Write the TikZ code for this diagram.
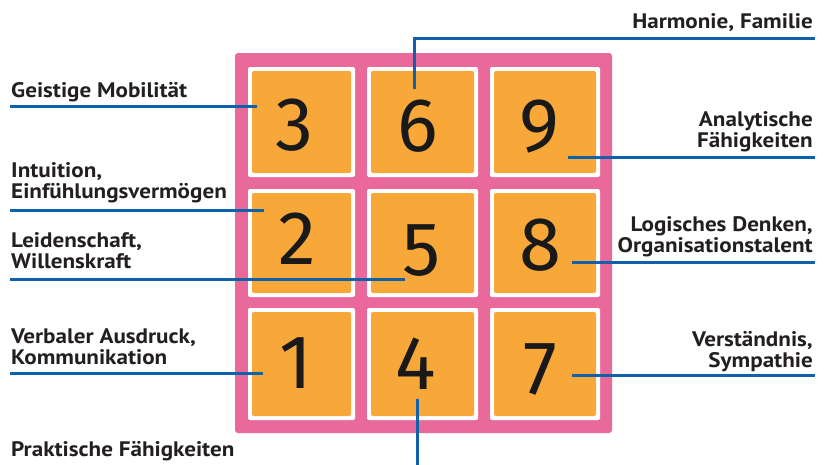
\documentclass[tikz,border=0pt]{standalone}
\usepackage{fontspec}
\setmainfont{PT Sans}[FakeStretch=1.1]
\newfontfamily\digitfont{Fira Sans}
\definecolor{framepink}{RGB}{233,105,155}
\definecolor{sqorange}{RGB}{247,168,56}
\definecolor{lineblue}{RGB}{16,96,170}
\definecolor{txt}{RGB}{35,31,32}
\begin{document}
\begin{tikzpicture}[x=1pt,y=-1pt,
  lab/.style={inner sep=0pt,font=\fontsize{21}{20.5}\selectfont\bfseries,text=txt},
  labl/.style={lab,anchor=base west,align=left},
  labr/.style={lab,anchor=base east,align=right},
  conn/.style={draw=lineblue,line width=3pt},
  cellw/.style={fill=white,rounded corners=2pt},
  sq/.style={fill=sqorange,rounded corners=2pt},
  dig/.style={inner sep=0pt,font=\digitfont\fontsize{76}{76}\selectfont,text=black!90}]
\useasboundingbox (0,0) rectangle (827,464);
% frame
\fill[framepink,rounded corners=3pt] (235,53) rectangle (612,433);
% white cells and orange squares
\foreach \cx/\xa/\xb in {1/248/355,2/367/478,3/490/600}{
  \foreach \ry/\ya/\yb in {1/67/177,2/189/297,3/308/420}{
    \fill[cellw] (\xa,\ya) rectangle (\xb,\yb);
    \fill[sq] (\xa+4,\ya+4) rectangle (\xb-4,\yb-4);
  }
}
% named square nodes
\node[inner sep=0pt,minimum width=99pt,minimum height=102pt] (sq3) at (301.5,122) {};
\node[inner sep=0pt,minimum width=103pt,minimum height=102pt] (sq6) at (422.5,122) {};
\node[inner sep=0pt,minimum width=102pt,minimum height=102pt] (sq9) at (545,122) {};
\node[inner sep=0pt,minimum width=99pt,minimum height=100pt] (sq2) at (301.5,243) {};
\node[inner sep=0pt,minimum width=103pt,minimum height=100pt] (sq5) at (422.5,243) {};
\node[inner sep=0pt,minimum width=102pt,minimum height=100pt] (sq8) at (545,243) {};
\node[inner sep=0pt,minimum width=99pt,minimum height=104pt] (sq1) at (301.5,364) {};
\node[inner sep=0pt,minimum width=103pt,minimum height=104pt] (sq4) at (422.5,364) {};
\node[inner sep=0pt,minimum width=102pt,minimum height=104pt] (sq7) at (545,364) {};
% digits
\node[dig] (d3) at (294,125) {3};
\node[dig] (d6) at (418,126) {6};
\node[dig] (d9) at (539,127) {9};
\node[dig] (d2) at (297,239) {2};
\node[dig] (d5) at (422,251) {5};
\node[dig] (d8) at (540,245) {8};
\node[dig] (d1) at (296,363) {1};
\node[dig] (d4) at (416,364) {4};
\node[dig] (d7) at (540,369) {7};
% labels left (anchor = baseline of last line)
\node[labl] (l3) at (11,97) {Geistige Mobilität};
\node[labl] (l2) at (11,198) {Intuition,\\Einfühlungsvermögen};
\node[labl] (l5) at (11,268) {Leidenschaft,\\Willenskraft};
\node[labl] (l1) at (11,364) {Verbaler Ausdruck,\\Kommunikation};
\node[labl] (l4) at (11,456) {Praktische Fähigkeiten};
% labels right
\node[labr] (l6) at (813,28) {Harmonie, Familie};
\node[labr] (l9) at (813,147) {Analytische\\Fähigkeiten};
\node[labr] (l8) at (813,252) {Logisches Denken,\\Organisationstalent};
\node[labr] (l7) at (813,367) {Verständnis,\\Sympathie};
% connector coordinates
\coordinate (a3) at (10,106);  \coordinate (p3) at (257,106);
\coordinate (a2) at (10,210);  \coordinate (p2) at (264,210);
\coordinate (a5) at (10,279);  \coordinate (p5) at (405,279);
\coordinate (a1) at (10,373);  \coordinate (p1) at (263,373);
\coordinate (a6) at (815,38);  \coordinate (b6) at (414,38); \coordinate (p6) at (414,89);
\coordinate (a9) at (815,157); \coordinate (p9) at (568,157);
\coordinate (a8) at (815,262); \coordinate (p8) at (572,262);
\coordinate (a7) at (815,375); \coordinate (p7) at (572,375);
\coordinate (p4) at (417,399); \coordinate (a4) at (417,466);
% connectors
\draw[conn] (a3) -- (p3);
\draw[conn] (a2) -- (p2);
\draw[conn] (a5) -- (p5);
\draw[conn] (a1) -- (p1);
\draw[conn] (a6) -- (b6) -- (p6);
\draw[conn] (a9) -- (p9);
\draw[conn] (a8) -- (p8);
\draw[conn] (a7) -- (p7);
\draw[conn] (p4) -- (a4);
\end{tikzpicture}
\end{document}
